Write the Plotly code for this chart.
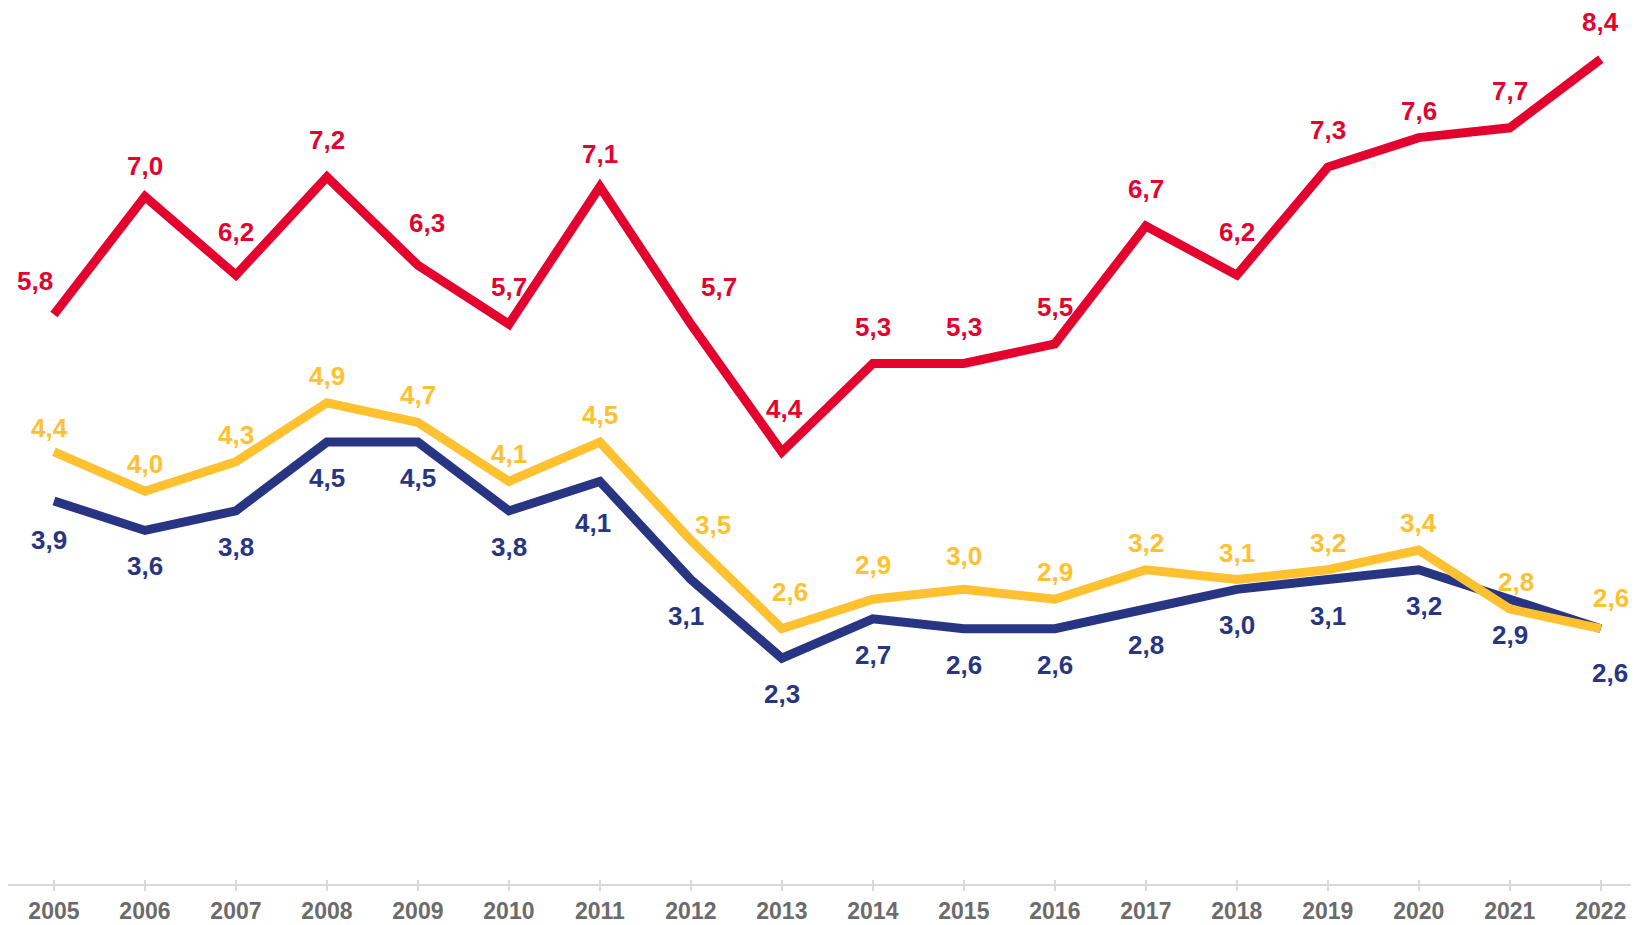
import plotly.graph_objects as go

years = list(range(2005, 2023))
red_values = [5.8, 7.0, 6.2, 7.2, 6.3, 5.7, 7.1, 5.7, 4.4, 5.3, 5.3, 5.5, 6.7, 6.2, 7.3, 7.6, 7.7, 8.4]
yellow_values = [4.4, 4.0, 4.3, 4.9, 4.7, 4.1, 4.5, 3.5, 2.6, 2.9, 3.0, 2.9, 3.2, 3.1, 3.2, 3.4, 2.8, 2.6]
navy_values = [3.9, 3.6, 3.8, 4.5, 4.5, 3.8, 4.1, 3.1, 2.3, 2.7, 2.6, 2.6, 2.8, 3.0, 3.1, 3.2, 2.9, 2.6]

RED = "#E3032E"
YELLOW = "#FFC12F"
NAVY = "#283583"
FONT = "Liberation Sans, Arial, sans-serif"

# drawing order: red, navy, then yellow on top (as in the original)
series = [
    ("red", red_values, RED, 37),
    ("navy", navy_values, NAVY, -36),
    ("yellow", yellow_values, YELLOW, 27),
]

# label nudges (pixels) for a few crowded labels: (series, year) -> (dx, dy)
nudges = {
    ("red", 2005): (-19, -4),
    ("red", 2006): (0, -6),
    ("red", 2007): (0, 6),
    ("red", 2009): (9, 5),
    ("red", 2011): (0, -4),
    ("red", 2012): (28, 0),
    ("red", 2013): (3, 6),
    ("red", 2018): (0, 6),
    ("red", 2020): (0, -10),
    ("yellow", 2005): (-4, -3),
    ("yellow", 2012): (22, -12),
    ("yellow", 2013): (8, 10),
    ("yellow", 2014): (0, 7),
    ("yellow", 2015): (0, 6),
    ("yellow", 2021): (6, 0),
    ("yellow", 2022): (10, 4),
    ("navy", 2005): (-5, -3),
    ("navy", 2011): (-7, -6),
    ("navy", 2012): (-5, 0),
    ("navy", 2020): (5, 0),
    ("navy", 2022): (9, -8),
}

fig = go.Figure()
annotations = []
for name, vals, color, dy in series:
    fig.add_trace(go.Scatter(
        x=years, y=vals, mode="lines", name=name,
        line=dict(color=color, width=9, shape="linear"),
        cliponaxis=False, hoverinfo="skip",
    ))
    for yr, v in zip(years, vals):
        ndx, ndy = nudges.get((name, yr), (0, 0))
        annotations.append(dict(
            x=yr, y=v, xref="x", yref="y", showarrow=False,
            text=f"{v:.1f}".replace(".", ","),
            font=dict(family=FONT, size=26, color=color, weight="bold"),
            xshift=ndx, yshift=dy + ndy,
        ))

# overlay axis so tick marks cross the axis line
fig.add_trace(go.Scatter(x=years, y=red_values, xaxis="x2", mode="none",
                         showlegend=False, hoverinfo="skip"))

fig.update_layout(
    width=1631, height=917,
    margin=dict(l=0, r=0, t=0, b=41),
    paper_bgcolor="white", plot_bgcolor="white",
    showlegend=False,
    annotations=annotations,
    xaxis=dict(
        range=[2004.495, 2022.42], tickmode="array", tickvals=years,
        ticktext=[str(y) for y in years],
        showgrid=False, zeroline=False,
        showline=True, linecolor="#D9D9D9", linewidth=2,
        ticks="outside", ticklen=5, tickwidth=1.5, tickcolor="#D9D9D9",
        tickfont=dict(family=FONT, size=23, color="#6B6B6B", weight="bold"),
        fixedrange=True,
    ),
    xaxis2=dict(
        overlaying="x", matches="x", anchor="y", side="bottom",
        tickmode="array", tickvals=years, showticklabels=False,
        ticks="inside", ticklen=4, tickwidth=1.5, tickcolor="#D9D9D9",
        showgrid=False, zeroline=False, showline=False,
    ),
    yaxis=dict(range=[0, 8.92], visible=False, fixedrange=True),
)

fig.write_html("out.html")
